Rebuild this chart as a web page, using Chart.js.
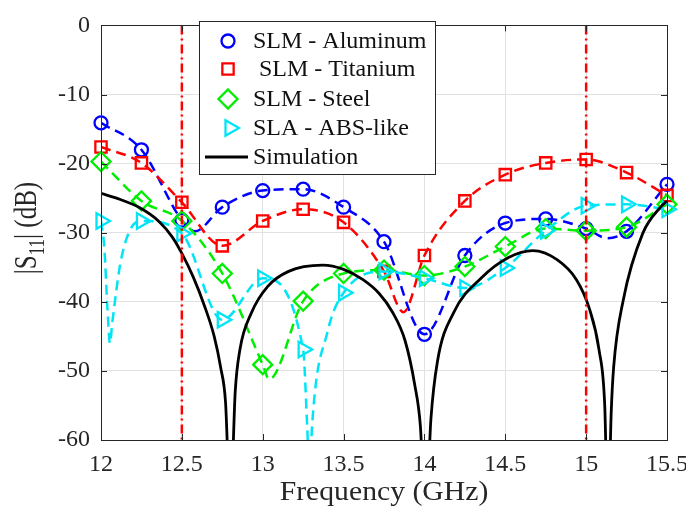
<!DOCTYPE html>
<html>
<head>
<meta charset="utf-8">
<script src="https://cdn.jsdelivr.net/npm/chart.js@4.4.1/dist/chart.umd.min.js"></script>
<style>
  html, body { margin: 0; padding: 0; background: #fff; }
</style>
</head>
<body>
<canvas id="c" width="686" height="523"></canvas>
<script>
// axis ticks
const xTicks = [12, 12.5, 13, 13.5, 14, 14.5, 15, 15.5];
const yTicks = [0, -10, -20, -30, -40, -50, -60];

// legend labels
const seriesNames = ["SLM - Aluminum", " SLM - Titanium", "SLM - Steel", "SLA - ABS-like", "Simulation"];

// measured points (markers every 0.25 GHz)
const freqMarks = [12, 12.25, 12.5, 12.75, 13, 13.25, 13.5, 13.75, 14, 14.25, 14.5, 14.75, 15, 15.25, 15.5];
const alMarks  = [-14.1, -18.0, -28.2, -26.3, -23.9, -23.7, -26.3, -31.3, -44.7, -33.3, -28.6, -28.0, -29.4, -29.8, -23.0];
const tiMarks  = [-17.6, -19.9, -25.6, -31.9, -28.3, -26.6, -28.5, -35.6, -33.3, -25.4, -21.6, -19.9, -19.4, -21.3, -24.6];
const stMarks  = [-19.7, -25.4, -28.3, -35.9, -49.1, -39.9, -35.9, -35.4, -36.2, -34.9, -32.0, -29.4, -29.7, -29.2, -25.9];
const absMarks = [-28.3, -28.3, -30.1, -42.6, -36.6, -46.9, -38.7, -35.6, -36.6, -38.0, -35.1, -29.7, -26.1, -25.9, -26.6];

// extra points of the dashed curves between markers
const alExtraF = [12.58, 15.13];
const alExtraV = [-29.8, -30.8];
const tiExtraF = [13.87];
const tiExtraV = [-41.5];
const stExtraF = [13.04];
const stExtraV = [-51.2];
const absExtraF = [12.02, 12.04, 12.055, 12.07, 12.12, 12.18, 13.275, 13.29, 13.305, 13.40];
const absExtraV = [-32.0, -41.0, -46.0, -43.0, -34.4, -29.6, -58.0, -66.0, -58.0, -44.4];

// simulation curve
const simF = [12.00, 12.12, 12.24, 12.36, 12.44, 12.50, 12.57, 12.64, 12.70, 12.74, 12.77, 12.80, 12.83, 12.86, 12.93,
              13.03, 13.16, 13.37, 13.50, 13.62, 13.72, 13.80, 13.88, 13.94, 13.975, 14.007, 14.04, 14.08, 14.18, 14.35,
              14.52, 14.67, 14.82, 14.94, 15.02, 15.08, 15.115, 15.135, 15.155, 15.17, 15.23, 15.35, 15.46, 15.50];
const simV = [-24.3, -25.2, -26.4, -28.4, -30.6, -33.0, -36.4, -40.6, -45.0, -49.5, -54.5, -70.0, -53.0, -46.8, -41.6,
              -37.8, -35.6, -34.7, -35.3, -36.8, -38.8, -41.4, -45.6, -52.0, -58.0, -72.0, -57.0, -48.7, -41.6, -36.6,
              -33.6, -32.6, -33.9, -36.8, -41.0, -47.0, -55.0, -72.0, -56.0, -49.5, -39.7, -30.1, -26.3, -25.4];

// band edges
const vLineF = [12.5, 15.0];

const FONT = "'Liberation Serif', 'Times New Roman', serif";
const colors = ["#0000ff", "#ff0000", "#00ee00", "#00e5f5", "#000000"];
const styles = ["circle", "rect", "rectRot", "triangle"];
const radii = [6.5, 8, 9.5, 9];

function mergePoints(fx, fy, ex, ey) {
  let pts = fx.map((x, i) => ({ x: x, y: fy[i] }));
  ex.forEach((x, i) => pts.push({ x: x, y: ey[i] }));
  pts.sort((a, b) => a.x - b.x);
  return pts;
}

function markPoints(vals) {
  return freqMarks.map((x, i) => ({ x: x, y: vals[i] }));
}

const marks = [alMarks, tiMarks, stMarks, absMarks];
const extrasF = [alExtraF, tiExtraF, stExtraF, absExtraF];
const extrasV = [alExtraV, tiExtraV, stExtraV, absExtraV];

let datasets = [];

vLineF.forEach(f => {
  datasets.push({
    data: [{ x: f, y: 0 }, { x: f, y: -60 }],
    showLine: true, borderColor: "#ff0000", borderWidth: 2.5,
    borderDash: [9, 4, 2, 4], pointRadius: 0, order: 0
  });
});

datasets.push({
  data: simF.map((x, i) => ({ x: x, y: simV[i] })),
  showLine: true, borderColor: "#000000", borderWidth: 2.8,
  cubicInterpolationMode: "monotone", pointRadius: 0, clip: 0, order: 1
});

for (let s = 3; s >= 0; s--) {
  let base = 2 + (3 - s) * 2;
  datasets.push({
    data: markPoints(marks[s]),
    showLine: false, pointStyle: styles[s], pointRotation: s === 3 ? 90 : 0,
    pointRadius: radii[s], pointBorderColor: colors[s], pointBackgroundColor: "rgba(0,0,0,0)",
    pointBorderWidth: 2.3, clip: false, order: base
  });
  datasets.push({
    data: mergePoints(freqMarks, marks[s], extrasF[s], extrasV[s]),
    showLine: true, borderColor: colors[s], borderWidth: 2.5, borderDash: [10, 6],
    cubicInterpolationMode: "monotone", pointRadius: 0, clip: 0, order: base + 1
  });
}

function drawMarker(ctx, style, x, y, r) {
  ctx.beginPath();
  if (style === "circle") {
    ctx.arc(x, y, r, 0, Math.PI * 2);
  } else if (style === "rect") {
    let h = r * Math.SQRT1_2;
    ctx.rect(x - h, y - h, 2 * h, 2 * h);
  } else if (style === "rectRot") {
    ctx.moveTo(x, y - r); ctx.lineTo(x + r, y); ctx.lineTo(x, y + r); ctx.lineTo(x - r, y); ctx.closePath();
  } else {
    ctx.moveTo(x + r, y);
    ctx.lineTo(x - r / 2, y - r * 0.866);
    ctx.lineTo(x - r / 2, y + r * 0.866);
    ctx.closePath();
  }
  ctx.stroke();
}

const framePlugin = {
  id: "frame",
  afterDraw(chart) {
    const ctx = chart.ctx;
    const a = chart.chartArea;
    const xs = chart.scales.x, ys = chart.scales.y;
    ctx.save();

    // box and inward ticks
    ctx.strokeStyle = "#262626";
    ctx.lineWidth = 1;
    ctx.beginPath();
    xTicks.forEach(v => {
      let px = Math.round(xs.getPixelForValue(v)) + 0.5;
      ctx.moveTo(px, a.bottom); ctx.lineTo(px, a.bottom - 6);
      ctx.moveTo(px, a.top); ctx.lineTo(px, a.top + 6);
    });
    yTicks.forEach(v => {
      let py = Math.round(ys.getPixelForValue(v)) + 0.5;
      ctx.moveTo(a.left, py); ctx.lineTo(a.left + 6, py);
      ctx.moveTo(a.right, py); ctx.lineTo(a.right - 6, py);
    });
    ctx.stroke();
    ctx.strokeRect(Math.round(a.left) + 0.5, Math.round(a.top) + 0.5, Math.round(a.right - a.left), Math.round(a.bottom - a.top));

    // legend
    ctx.fillStyle = "#ffffff";
    ctx.fillRect(199.5, 21.5, 236, 153);
    ctx.strokeStyle = "#262626";
    ctx.strokeRect(199.5, 21.5, 236, 153);
    const rows = [41, 69, 99, 128, 157];
    ctx.font = "24px " + FONT;
    ctx.textBaseline = "middle";
    ctx.textAlign = "left";
    for (let i = 0; i < 5; i++) {
      ctx.strokeStyle = colors[i];
      if (i < 4) {
        ctx.lineWidth = 2.3;
        drawMarker(ctx, styles[i], i === 3 ? 230 : 228, rows[i], radii[i]);
      } else {
        ctx.lineWidth = 2.8;
        ctx.beginPath(); ctx.moveTo(205, rows[i]); ctx.lineTo(248, rows[i]); ctx.stroke();
      }
      ctx.fillStyle = "#111111";
      ctx.fillText(seriesNames[i], 253, rows[i] + 1);
    }

    // x title
    ctx.fillStyle = "#262626";
    ctx.textBaseline = "alphabetic";
    ctx.textAlign = "center";
    ctx.save();
    ctx.translate((a.left + a.right) / 2, 500);
    ctx.scale(1.1, 1);
    ctx.font = "27px " + FONT;
    ctx.fillText("Frequency (GHz)", 0, 0);
    ctx.restore();

    // y title with subscript
    ctx.save();
    ctx.translate(36, 228);
    ctx.rotate(-Math.PI / 2);
    ctx.scale(1, 1.3);
    ctx.textAlign = "left";
    const big = "25px " + FONT, small = "17px " + FONT;
    ctx.font = big; let w1 = ctx.measureText("|S").width;
    ctx.font = small; let w2 = ctx.measureText("11").width;
    ctx.font = big; let w3 = ctx.measureText("| (dB)").width;
    let x0 = -(w1 + w2 + w3) / 2;
    ctx.font = big; ctx.fillText("|S", x0, 0);
    ctx.font = small; ctx.fillText("11", x0 + w1, 6);
    ctx.font = big; ctx.fillText("| (dB)", x0 + w1 + w2, 0);
    ctx.restore();

    ctx.restore();
  }
};

new Chart(document.getElementById("c"), {
  type: "scatter",
  data: { datasets: datasets },
  options: {
    responsive: false,
    animation: false,
    layout: { padding: { left: 0, top: 19, right: 19, bottom: 0 } },
    plugins: { legend: { display: false }, tooltip: { enabled: false } },
    scales: {
      x: {
        type: "linear", min: 12, max: 15.5,
        afterBuildTicks: s => { s.ticks = xTicks.map(v => ({ value: v })); },
        afterFit: s => { s.height = 83; s.paddingLeft = 0; s.paddingRight = 0; },
        grid: { color: "#e2e2e2", drawTicks: false },
        border: { display: false },
        ticks: { padding: 10, autoSkip: false, maxRotation: 0, color: "#262626",
                 font: { family: FONT, size: 24 }, callback: v => String(v) }
      },
      y: {
        type: "linear", min: -60, max: 0,
        afterBuildTicks: s => { s.ticks = yTicks.map(v => ({ value: v })); },
        afterFit: s => { s.width = 101; },
        grid: { color: "#e2e2e2", drawTicks: false },
        border: { display: false },
        ticks: { padding: 11, autoSkip: false, color: "#262626",
                 font: { family: FONT, size: 24 }, callback: v => String(v) }
      }
    }
  },
  plugins: [framePlugin]
});
</script>
</body>
</html>
